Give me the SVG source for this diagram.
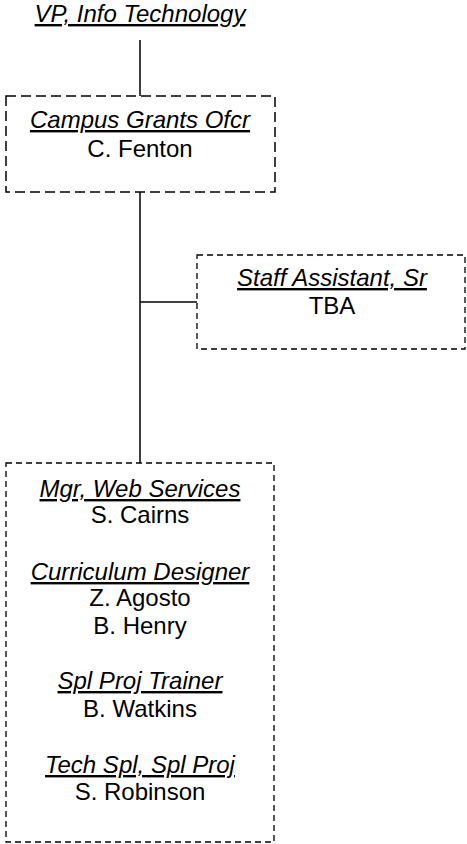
<svg xmlns="http://www.w3.org/2000/svg" width="467" height="844" viewBox="0 0 467 844">
<style>
text{font-family:"Liberation Sans",Arial,sans-serif;font-size:24px;fill:#000;text-anchor:middle}
.t{font-style:italic;text-decoration:underline}
.box{fill:none;stroke:#000;stroke-width:1.5}
.b1{stroke-dasharray:10 5}
.b2{stroke-dasharray:6 4;stroke-width:1.3}
.ln{stroke:#000;stroke-width:1.5;fill:none}
</style>
<rect width="467" height="844" fill="#fff"/>
<g id="connectors">
<line class="ln" x1="140" y1="40" x2="140" y2="96"/>
<line class="ln" x1="140" y1="192" x2="140" y2="463"/>
<line class="ln" x1="140" y1="302" x2="197" y2="302"/>
</g>
<g id="vp">
<text class="t" x="140" y="22">VP, Info Technology</text>
</g>
<g id="grants">
<rect class="box b1" x="6" y="96" width="269" height="96"/>
<text class="t" x="140" y="128">Campus Grants Ofcr</text>
<text x="140" y="157">C. Fenton</text>
</g>
<g id="staff">
<rect class="box b2" x="197" y="255" width="268" height="94"/>
<text class="t" x="332" y="286">Staff Assistant, Sr</text>
<text x="332" y="314">TBA</text>
</g>
<g id="web">
<rect class="box b2" x="6" y="463" width="268" height="379"/>
<text class="t" x="140" y="497">Mgr, Web Services</text>
<text x="140" y="523">S. Cairns</text>
<text class="t" x="140" y="580">Curriculum Designer</text>
<text x="140" y="606">Z. Agosto</text>
<text x="140" y="634">B. Henry</text>
<text class="t" x="140" y="689">Spl Proj Trainer</text>
<text x="140" y="717">B. Watkins</text>
<text class="t" x="140" y="773">Tech Spl, Spl Proj</text>
<text x="140" y="800">S. Robinson</text>
</g>
</svg>
